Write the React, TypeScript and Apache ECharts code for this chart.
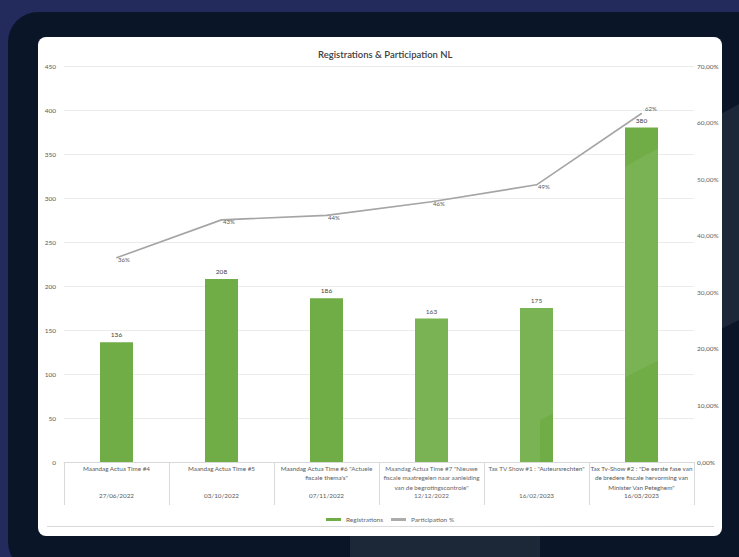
import React, { useEffect, useRef } from "react";
import * as echarts from "echarts";

const eventNames: string[] = [
  "Maandag Actua Time #4",
  "Maandag Actua Time #5",
  "Maandag Actua Time #6 \"Actuele\nfiscale thema's\"",
  "Maandag Actua Time #7 \"Nieuwe\nfiscale maatregelen naar aanleiding\nvan de begrotingscontrole\"",
  "Tax TV Show #1 : \"Auteursrechten\"",
  "Tax Tv-Show #2 : \"De eerste fase van\nde bredere fiscale hervorming van\nMinister Van Peteghem\"",
];
const eventDates: string[] = ["27/06/2022", "03/10/2022", "07/11/2022", "12/12/2022", "16/02/2023", "16/03/2023"];
const registrations: number[] = [136, 208, 186, 163, 175, 380];
const participation: number[] = [36.1, 42.8, 43.6, 46.0, 49.0, 61.6];

const FONT = "Lato, 'Open Sans', sans-serif";

export default function App() {
  const ref = useRef<HTMLDivElement>(null);
  useEffect(() => {
    if (!ref.current) return;
    const chart = echarts.init(ref.current, undefined, { renderer: "svg" });
    const lastIdx = participation.length - 1;
    chart.setOption({
      animation: false,
      backgroundColor: "transparent",
      textStyle: { fontFamily: FONT },
      title: {
        text: "Registrations & Participation NL",
        left: 313,
        top: 44,
        textStyle: { fontSize: 9.5, fontWeight: 600, color: "#404040", fontFamily: FONT },
      },
      legend: {
        left: 321,
        top: 511,
        itemWidth: 15,
        itemHeight: 3,
        itemGap: 8,
        textStyle: { fontSize: 6.5, color: "#595959", fontFamily: FONT },
        data: [
          { name: "Registrations", icon: "rect" },
          { name: "Participation %", icon: "rect" },
        ],
      },
      grid: { left: 64, right: 45, top: 66, bottom: 95, containLabel: false },
      xAxis: [
        {
          type: "category",
          data: eventNames,
          axisLine: { lineStyle: { color: "#d9d9d9", width: 1 } },
          axisTick: { show: true, length: 43, interval: 0, lineStyle: { color: "#d9d9d9" } },
          axisLabel: {
            interval: 0,
            margin: 2,
            fontSize: 6.3,
            lineHeight: 9.2,
            verticalAlign: "top",
            color: "#595959",
            fontFamily: FONT,
          },
        },
        {
          type: "category",
          position: "bottom",
          data: eventDates,
          axisLine: { show: false },
          axisTick: { show: false },
          splitLine: { show: false },
          axisLabel: {
            interval: 0,
            margin: 30,
            fontSize: 6.3,
            verticalAlign: "top",
            color: "#595959",
            fontFamily: FONT,
          },
        },
      ],
      yAxis: [
        {
          type: "value",
          min: 0,
          max: 450,
          interval: 50,
          axisLine: { show: false },
          axisTick: { show: false },
          splitLine: { lineStyle: { color: "#ebebeb" } },
          axisLabel: { fontSize: 6.5, color: "#595959", margin: 8, fontFamily: FONT },
        },
        {
          type: "value",
          min: 0,
          max: 70,
          interval: 10,
          axisLine: { show: false },
          axisTick: { show: false },
          splitLine: { show: false },
          axisLabel: {
            fontSize: 6.5,
            color: "#595959",
            margin: 3,
            fontFamily: FONT,
            formatter: (v: number) => v.toFixed(2).replace(".", ",") + "%",
          },
        },
      ],
      series: [
        {
          name: "Registrations",
          type: "bar",
          data: registrations,
          barWidth: 33,
          itemStyle: { color: "#70ad47" },
          label: { show: true, position: "top", distance: 4, fontSize: 6.5, color: "#404040", fontFamily: FONT },
        },
        {
          name: "Participation %",
          type: "line",
          yAxisIndex: 1,
          data: participation.map((v, i) =>
            i === lastIdx ? { value: v, label: { position: "right", offset: [2, -5] } } : v
          ),
          symbol: "circle",
          symbolSize: 1,
          itemStyle: { color: "#a5a5a5" },
          lineStyle: { color: "#a5a5a5", width: 1.6 },
          label: {
            show: true,
            position: "right",
            distance: 1,
            offset: [0, 2],
            fontSize: 6,
            color: "#595959",
            fontFamily: FONT,
            formatter: (p: any) => Math.round(p.value) + "%",
          },
        },
      ],
    });
    return () => chart.dispose();
  }, []);

  return (
    <div style={{ position: "fixed", left: 0, top: 0, width: 739, height: 557, overflow: "hidden", background: "#232a5c" }}>
      <div style={{ position: "absolute", left: 8, top: 12, width: 760, height: 560, borderRadius: 30, background: "#0a1628" }} />
      <div style={{ position: "absolute", left: 38, top: 37, width: 684, height: 499, borderRadius: 8, background: "#ffffff" }} />
      <div style={{ position: "absolute", left: 47, top: 526, width: 667, height: 1, background: "#d9d9d9" }} />
      <div ref={ref} style={{ position: "absolute", left: 0, top: 0, width: 739, height: 557 }} />
      <div
        style={{
          position: "absolute",
          left: 0,
          top: 0,
          width: 739,
          height: 557,
          pointerEvents: "none",
          background: "rgba(255,255,255,0.075)",
          clipPath: "polygon(350px 557px, 350px 318px, 739px 104px, 739px 320px, 540px 420px, 540px 557px)",
        }}
      />
    </div>
  );
}
